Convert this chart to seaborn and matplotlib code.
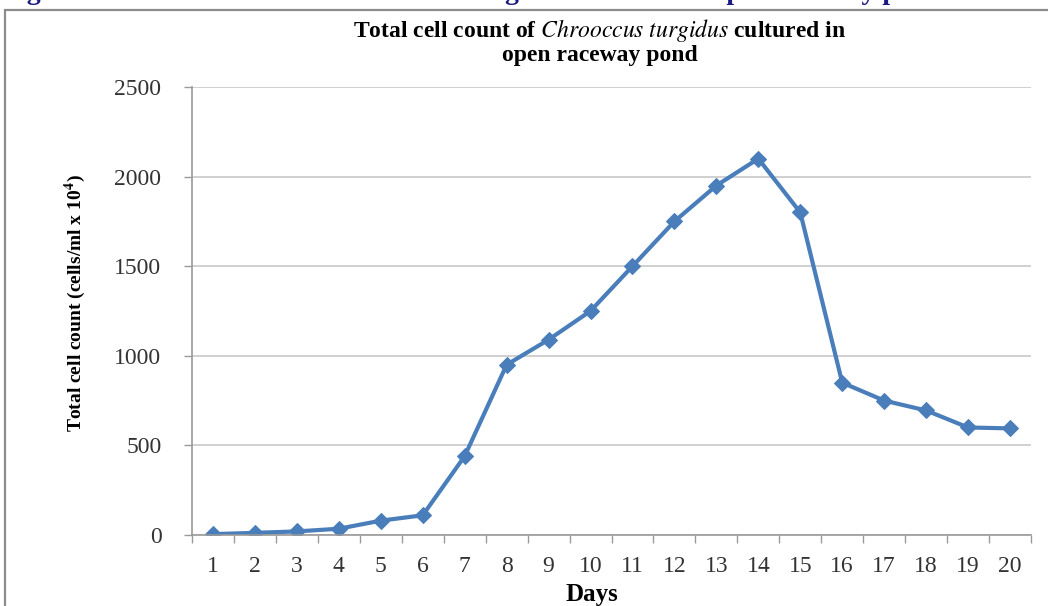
import numpy as np
import pandas as pd
import seaborn as sns
import matplotlib.pyplot as plt
from matplotlib.patches import Rectangle

# dados
dias = list(range(1, 21))
contagem = [5, 12, 20, 35, 80, 110, 440, 950, 1090, 1250,
            1500, 1750, 1950, 2100, 1800, 850, 750, 695, 600, 595]
yticks = [0, 500, 1000, 1500, 2000, 2500]

titulo_1 = r"Total cell count of $\it{Chrooccus\ turgidus}$ cultured in"
titulo_2 = "open raceway pond"
legenda_fig = "Figure 3: Total cell count of Chrooccus turgidus cultured in open raceway pond"
rotulo_y = r"Total cell count (cells/ml x 10$^{\mathbf{4}}$)"
rotulo_x = "Days"

df = pd.DataFrame({"dia": dias, "contagem": contagem})

sns.set_theme(style="white")
plt.rcParams["font.family"] = ["Liberation Serif", "DejaVu Serif"]
plt.rcParams["mathtext.fontset"] = "stix"

fig = plt.figure(figsize=(10.48, 6.06), dpi=100)
W, H = 1048, 606
ax = fig.add_axes([192 / W, 1 - 535 / H, (1031 - 192) / W, (535 - 87) / H])

# moldura cinza do gráfico
fig.patches.append(Rectangle((5 / W, -0.05), 1.2, 1 - 10 / H + 0.05, transform=fig.transFigure,
                             fill=False, edgecolor="#8c8c8c", linewidth=1.6))

sns.lineplot(data=df, x="dia", y="contagem", ax=ax, color="#4a7ebb", linewidth=3,
             marker="D", markersize=8, markeredgecolor="#4a7ebb")

ax.set_xlim(0.5, 20.5)
ax.set_ylim(0, 2500)
ax.set_yticks(yticks)
ax.set_xticks(dias)
ax.set_xticklabels([str(d) for d in dias])
ax.set_xticks(np.arange(0.5, 21, 1), minor=True)
ax.tick_params(axis="x", which="major", length=0, pad=15, labelsize=17, labelcolor="#333333")
ax.tick_params(axis="x", which="minor", length=6, width=1, color="#9a9a9a", direction="out", bottom=True)
ax.tick_params(axis="y", length=6, width=1, color="#9a9a9a", direction="out", left=True,
               pad=16, labelsize=17, labelcolor="#333333")
ax.yaxis.grid(True, color="#c4c4c4", linewidth=1.1)
ax.set_axisbelow(True)
for s in ["top", "right"]:
    ax.spines[s].set_visible(False)
for s in ["left", "bottom"]:
    ax.spines[s].set_color("#9a9a9a")
    ax.spines[s].set_linewidth(1.2)
ax.set_xlabel("")
ax.set_ylabel("")

fig.text(75 / W, 1 - 303 / H, rotulo_y, rotation=90, ha="center", va="center",
         fontsize=14, fontweight="bold", color="black")
fig.text(592 / W, 1 - 595 / H, rotulo_x, ha="center", va="center",
         fontsize=18, fontweight="bold", color="black")
fig.text(600 / W, 1 - 30 / H, titulo_1, ha="center", va="center",
         fontsize=17, fontweight="bold", color="black")
fig.text(600 / W, 1 - 56 / H, titulo_2, ha="center", va="center",
         fontsize=17, fontweight="bold", color="black")
# legenda da figura cortada no topo
fig.text(2 / W, 1 + 1 / H, legenda_fig, ha="left", va="baseline",
         fontsize=20, fontweight="bold", color="#1a1a80")

fig.savefig("out.png", dpi=100)
